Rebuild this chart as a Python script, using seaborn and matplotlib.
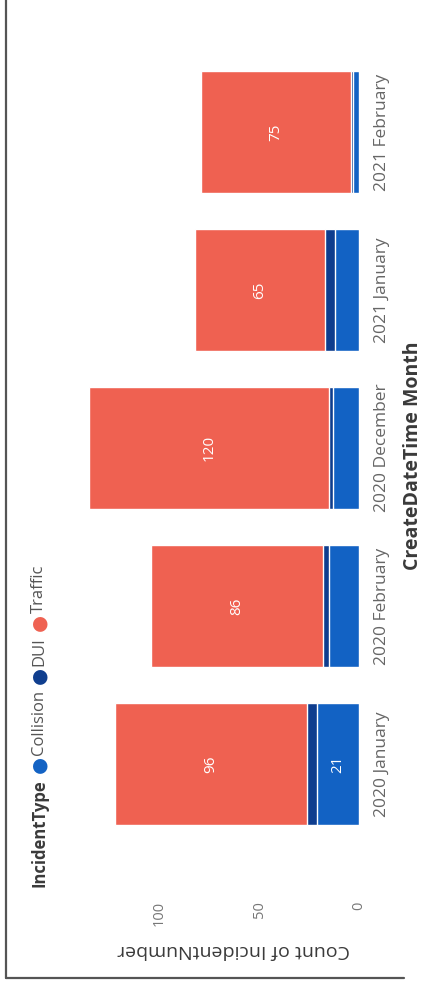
import pandas as pd
import seaborn as sns
import matplotlib.pyplot as plt
from matplotlib.lines import Line2D

# data
months = ["2020 January", "2020 February", "2020 December", "2021 January", "2021 February"]
collision = [21, 15, 13, 12, 3]
dui = [5, 3, 2, 5, 1]
traffic = [96, 86, 120, 65, 75]
series = ["Collision", "DUI", "Traffic"]
colors = {"Collision": "#1262C4", "DUI": "#0E3D8E", "Traffic": "#EF6151"}

sns.set_theme(style="white")
plt.rcParams['font.family'] = ['Open Sans', 'DejaVu Sans']

df = pd.DataFrame({"month": months, "Collision": collision, "DUI": dui, "Traffic": traffic})
df["dui_top"] = df["Collision"] + df["DUI"]
df["total"] = df["dui_top"] + df["Traffic"]
order = months[::-1]

W, H = 425, 988
fig = plt.figure(figsize=(W / 100, H / 100), dpi=100)
fig.patch.set_facecolor("white")
ax = fig.add_axes([79 / W, (H - 843) / H, (359 - 79) / W, 790 / H])

# stacked bars: draw cumulative totals back to front
for col, name in [("total", "Traffic"), ("dui_top", "DUI"), ("Collision", "Collision")]:
    sns.barplot(data=df, x=col, y="month", order=order, orient="h",
                color=colors[name], saturation=1, width=0.766,
                errorbar=None, ax=ax)

for _, row in df.iterrows():
    yi = order.index(row["month"])
    ax.text((row["dui_top"] + row["total"]) / 2, yi, str(row["Traffic"]),
            rotation=90, ha="center", va="center", color="white", fontsize=11)
    if row["Collision"] >= 20:
        ax.text(row["Collision"] / 2, yi, str(row["Collision"]),
                rotation=90, ha="center", va="center", color="white", fontsize=11)

ax.set_xlim(140, 0)
ax.set_xticks([0, 50, 100])
ax.yaxis.tick_right()
ax.tick_params(axis="x", length=0, pad=42, labelrotation=90, labelsize=10.5, labelcolor="#777777")
ax.tick_params(axis="y", length=0, pad=11, labelrotation=90, labelsize=12.5, labelcolor="#666666")
plt.setp(ax.get_yticklabels(), va="center", ha="left")
sns.despine(ax=ax, left=True, bottom=True, top=True, right=True)

ax.yaxis.set_label_position("right")
ax.set_ylabel("CreateDateTime Month", rotation=90, fontsize=14, fontweight="bold", color="#3a3a3a")
ax.yaxis.label.set(va="center", ha="center", rotation_mode="default")
ax.yaxis.set_label_coords((413 - 79) / 280, (843 - 456) / 790)

ax.set_xlabel("Count of IncidentNumber", rotation=180, fontsize=14, color="#3a3a3a")
ax.xaxis.label.set(va="center", ha="center")
ax.xaxis.set_label_coords((234 - 79) / 280, -(950 - 843) / 790)

# legend, written bottom-to-top like the rotated chart
renderer = fig.canvas.get_renderer()
lx, ly = 39 / W, 887
pieces = [("IncidentType", "#3a3a3a", "bold", 12, 6)]
for s in series:
    pieces.append(("\u25CF", colors[s], "normal", 14, 1))
    pieces.append((s, "#555555", "normal", 12, 6))
for txt, c, fw, fs, gap in pieces:
    t = fig.text(lx, 1 - ly / H, txt, rotation=90, ha="center", va="bottom",
                 color=c, fontweight=fw, fontsize=fs,
                 family=['DejaVu Sans'] if txt == "\u25CF" else ['Open Sans', 'DejaVu Sans'])
    ly -= t.get_window_extent(renderer).height + gap

# frame lines from the scanned report
fig.add_artist(Line2D([6 / W, 6 / W], [1, (H - 978) / H], color="#555555", lw=1.6))
fig.add_artist(Line2D([6 / W, 404 / W], [(H - 978) / H, (H - 978) / H], color="#555555", lw=1.6))

fig.savefig("out.png", dpi=100)
